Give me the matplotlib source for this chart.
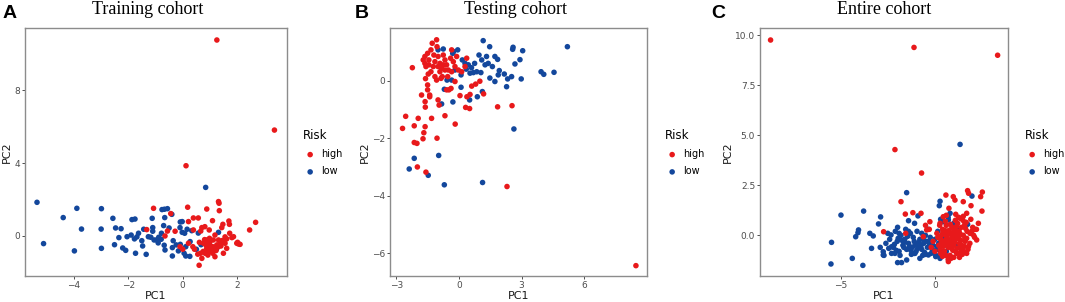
import matplotlib
matplotlib.use("Agg")
import matplotlib.pyplot as plt

# ---------------- Data ----------------
# Panel A: Training cohort
a_high_x = [1.25, 3.36, 0.12, 1.31, 1.33, -1.07, 0.18, 0.88, -0.44, 1.34, 0.39, 0.57, 0.21, 1.09, 1.69,
            2.67, 2.45, -1.32, -0.56, -0.28, -0.65, 0.39, 0.66, 0.70, 0.81, 0.97, 1.43, 1.47, 1.71, 1.72,
            1.55, 1.80, 1.98, 2.04, 2.10, 0.21, 0.37, 0.61, 0.88, 0.98, 1.12, 1.31, 1.37, 1.55, 1.61,
            1.49, 0.88, 0.99, 1.09, 0.82, 0.70, 0.60, 1.18, -0.10, 0.00, 0.43, 0.76, 0.94, 1.03, 1.25,
            1.86, 2.01, 1.61, 1.18, 0.95, 1.05, 1.15, 0.85, 0.75, 1.00, 1.10, 0.92, 1.20, 0.55, 1.40,
            0.98, 1.08, 0.90, 1.22, 0.80, 1.30, 0.65, 1.45]
a_high_y = [10.77, 5.82, 3.86, 1.89, 1.80, 1.52, 1.58, 1.48, 1.23, 1.39, 0.99, 0.99, 0.79, 0.84, 0.82,
            0.75, 0.33, 0.35, 0.27, 0.26, 0.00, 0.33, 0.27, 0.46, 0.51, 0.33, 0.46, 0.64, 0.64, 0.15,
            -0.05, -0.09, -0.40, -0.44, -0.46, -0.40, -0.59, -0.35, -0.22, -0.13, -0.22, -0.22, -0.40, -0.40, -0.68,
            -0.95, -0.68, -0.68, -0.59, -0.95, -1.23, -1.61, -1.14, -0.59, -0.73, -0.73, -0.40, -0.40, -0.86, -0.49,
            -0.04, -0.35, -0.16, 0.05, -0.55, -0.80, -0.62, -0.50, -0.85, -0.30, -0.95, -1.05, -0.75, -1.00, -0.55,
            -0.45, -0.70, -0.90, -0.80, -0.20, -0.60, -0.95, -0.25]
a_low_x = [-5.34, -5.10, -4.38, -3.88, -3.97, -3.71, -2.98, -2.99, -2.98, -2.56, -2.46, -2.26, -2.50, -2.34,
           -2.04, -2.20, -2.09, -1.86, -1.75, -1.89, -1.77, -1.62, -1.68, -1.73, -1.50, -1.43, -1.47, -1.34,
           -1.26, -1.17, -1.12, -1.10, -1.10, -1.05, -0.96, -0.88, -0.90, -0.78, -0.76, -0.67, -0.56, -0.66,
           -0.70, -0.79, -0.68, -0.65, -0.50, -0.40, -0.35, -0.38, -0.38, -0.24, -0.10, -0.09, -0.02, -0.02,
           0.07, -0.16, -0.09, 0.11, 0.16, 0.33, 0.26, 0.11, 0.05, 0.84, 0.57, 0.67, 0.96, 1.23, 1.31, 1.17,
           0.50, 0.27]
a_low_y = [1.85, -0.42, 1.01, 1.52, -0.82, 0.38, 1.50, 0.38, -0.68, 0.97, 0.44, 0.40, -0.48, -0.09,
           -0.04, -0.66, -0.79, 0.90, 0.93, 0.05, -0.16, 0.15, -0.05, -0.95, -0.26, 0.37, -0.55, -1.01,
           -0.04, -0.07, 0.97, 0.46, 0.26, -0.22, -0.22, -0.07, -0.38, 0.15, 1.45, 1.47, 1.50, 1.01,
           0.57, -0.18, -0.51, -0.77, 0.44, 1.19, -0.26, -0.64, -1.10, -0.49, 0.46, 0.77, 0.79, 0.20,
           0.15, -0.82, -0.46, -0.59, 0.37, 0.29, -1.12, -1.10, -0.95, 2.67, 0.16, -0.48, -0.42, -0.73, 0.20, -0.64,
           -0.73, -0.31]

# Panel B: Testing cohort
b_high_x = [8.47, 2.30, -1.58, -1.99, -2.14, -2.01, -1.72, -1.05, -1.68, -1.62, -2.14, -2.70, -2.55, -1.95,
            -1.31, -0.67, -0.18, -1.79, -1.62, -1.61, -1.40, -1.40, -1.00, -0.95, -1.50, -1.50, -1.60, -1.47,
            -1.07, -0.86, -0.59, -0.48, -0.38, -0.19, 0.05, 0.32, 0.51, 0.38, 0.53, 0.61, 0.80, 1.00, 1.18,
            1.85, 2.54, -2.23, -1.63, -1.63, -1.58, -1.50, -1.44, -1.34, -1.28, -1.07, -1.05, -1.20, -1.15,
            -1.00, -0.91, -0.83, -0.75, -0.67, -0.59, -0.51, -0.40, -0.35, -0.27, -0.19, -0.11, -0.03, 0.13,
            0.29, 0.37, -1.34, -1.15, -0.80, -1.23, -0.91, -0.54, -1.71, -1.44, -0.67, -0.35, -0.75, -1.00]
b_high_y = [-6.43, -3.68, -3.18, -3.00, -2.15, -2.18, -2.02, -2.00, -1.81, -1.60, -1.57, -1.66, -1.24, -1.31,
            -1.31, -1.22, -1.51, -0.50, -0.73, -0.92, -0.50, -0.56, -0.67, -0.85, -0.32, -0.15, 0.07, 0.23,
            0.02, 0.08, -0.32, -0.32, -0.27, -0.03, -0.52, -0.93, -0.97, -0.56, -0.48, -0.19, -0.12, -0.02, -0.46,
            -0.91, -0.87, 0.45, 0.84, 0.60, 0.49, 0.95, 0.72, 1.07, 1.30, 1.42, 1.18, 0.89, 0.66,
            0.84, 0.60, 0.43, 0.89, 0.72, 0.55, 0.37, 0.78, 1.07, 0.66, 0.49, 0.84, 0.37, 0.31,
            0.49, 0.78, 0.31, 0.14, 0.14, 0.49, 0.31, 0.14, 0.72, 0.55, 0.37, 0.31, 0.55, 0.49]
b_low_x = [5.19, 4.55, 3.93, 4.06, 3.05, 2.59, 2.57, 2.92, 2.68, 2.98, 2.63, 2.28, 2.52, 2.33, 2.17, 1.93,
           1.85, 1.72, 1.60, 1.40, 1.32, 1.16, 1.47, 1.48, 1.72, 1.88, 1.09, 0.96, 0.85, 0.69, 0.53, 1.05,
           1.12, 0.88, 0.45, 0.29, 0.16, -0.06, -0.26, -0.30, -0.75, -1.00, -0.19, 0.10, -0.35, -0.70, 0.10,
           0.51, -0.29, -0.83, -0.97, -2.14, -2.38, -1.47, -0.70, 1.13, -0.57, 0.60, 0.75, 1.25, 0.35]
b_low_y = [1.18, 0.29, 0.31, 0.22, 1.04, 1.16, 1.09, 0.73, 0.58, 0.06, -1.68, -0.21, 0.14, 0.06, 0.23, 0.35,
           0.74, 0.84, 0.49, 0.60, 0.84, 1.39, 1.18, 0.09, -0.03, 0.20, 0.72, 0.89, 0.31, 0.28, 0.26, 0.28,
           -0.38, -0.56, 0.55, 0.60, 0.72, 1.07, 1.01, 0.95, 1.10, 1.07, 0.37, 0.20, 0.02, -0.30, -0.23,
           -0.67, -0.74, -0.81, -2.60, -2.70, -3.07, -3.29, -3.62, -3.54, 0.02, 0.45, 0.60, 0.55, 0.40]

# Panel C: Entire cohort
c_high_x = [-8.71, -1.11, 3.32, -2.12, -0.71, -1.80, -1.57, -1.17, -0.74, -2.72, -1.55, 0.58, 0.97, 1.06,
            1.50, 1.73, 1.78, 2.51, 2.42, 2.49, 1.91, 1.68, 1.33, 0.74, 0.44, 0.27, -0.27, -0.44, -0.62,
            2.12, 2.21, 1.86, 1.68, 1.50, 1.15, 0.71, 0.44,
            0.3, 0.5, 0.6, 0.7, 0.8, 0.9, 1.0, 1.1, 1.2, 1.3, 1.4, 1.5, 1.6, 0.4, 0.6, 0.9, 1.2, 1.4, 1.7,
            0.5, 0.8, 1.1, 1.3, 0.2, 0.35, 0.65, 0.95, 1.05, 1.25, 1.55, 1.85, 2.0, 0.75, 0.45, 1.15, 1.65,
            1.9, 0.25, 0.55, 0.85, 1.35, 1.45, 0.3, 0.7, 1.0, 1.75, 2.1, 2.3, 0.1, -0.1, -0.3, -0.5, -0.2,
            0.0, 0.55, 0.85, 1.05, 1.3, 0.65, 0.9, 1.2, 1.6, 0.45, 0.75, 1.0,
            0.35, 0.62, 0.88, 1.12, 1.38, 1.62, 1.88, 0.42, 0.68, 0.95, 1.18, 1.42, 1.68, 0.28, 0.52, 0.78,
            1.02, 1.28, 1.52, 1.78, 2.05, 0.58, 0.82, 1.08, 1.32, 1.58, 0.15, 0.4, 0.72, 0.98, 1.25, 1.48,
            1.95, 2.2, 0.6, 1.1, 1.5, 0.85]
c_high_y = [9.75, 9.38, 8.99, 4.28, 3.11, 1.68, 1.06, 1.13, 1.10, 0.18, 0.10, 2.01, 1.93, 1.76,
            1.68, 2.23, 2.10, 2.16, 1.93, 1.21, 1.48, 1.10, 0.85, 1.35, 0.93, 0.60, 0.68, 0.27, -0.07,
            0.30, -0.23, 0.10, -0.90, -0.57, -0.90, -1.31, -0.90,
            -0.2, -0.4, 0.1, -0.6, -0.3, 0.0, -0.5, -0.2, 0.2, -0.4, -0.7, 0.0, -0.3, 0.3, 0.5, 0.4, 0.6, 0.4, 0.2,
            -0.8, -1.0, -0.8, -1.1, -0.5, 0.0, -0.15, -0.75, 0.15, -0.15, -0.55, -0.4, 0.4, 0.25, -0.55, 0.45, 0.65,
            0.8, 0.5, 0.7, -0.45, 0.05, -0.95, -0.9, -1.2, -1.1, -0.7, -0.1, 0.6, 0.1, -0.3, 0.3, 0.5, -0.6,
            -0.8, -0.25, 0.1, -0.35, -0.6, -0.5, -0.1, 0.05, -0.2, 0.15, -0.3, 0.3,
            -0.35, -0.05, -0.65, 0.0, -0.25, 0.35, 0.1, 0.15, -0.45, -0.3, -0.65, -0.5, -0.15, -0.7, 0.25, 0.1,
            0.35, 0.2, -0.8, -0.55, 0.0, -1.0, 0.55, 0.75, -0.9, 0.55, -0.1, -1.05, -0.35, 0.35, 0.9, 0.75,
            0.2, 0.3, 1.0, 1.05, 0.95, -1.15]
c_low_x = [1.33, -1.50, 1.96, 0.27, -4.98, -3.78, -2.88, -2.99, -4.05, -4.08, -4.20, -3.45, -3.27, -3.36,
           -5.48, -5.51, -4.38, -3.82, -2.74, -2.74, -2.33, -1.98, -2.30, -2.12, -1.98, -1.77, -1.50, -1.06,
           -0.80, -0.35, -1.40, -1.08, -0.90, 0.23, 0.44, 0.71, 0.80, 1.24, 1.73, 0.04, 0.27, 0.80,
           -2.6, -2.4, -2.2, -2.0, -1.9, -1.8, -1.7, -1.6, -1.5, -1.4, -1.3, -1.2, -1.1, -1.0, -0.9, -0.8,
           -0.7, -0.6, -0.5, -0.4, -0.3, -0.2, -0.1, 0.0, 0.1, 0.2, 0.3, 0.4, -2.3, -2.1, -1.85, -1.55,
           -1.25, -0.95, -0.65, -0.35, 0.05, -1.75, -1.45, -1.15, -0.85, -0.55, -0.25, 0.15, -2.9, -2.7, -2.5,
           0.6, 0.9, 1.2, 0.5, 1.0, 0.3, 0.7,
           -2.15, -1.95, -1.65, -1.35, -1.05, -0.75, -0.45, -0.15, 0.12, -2.05, -1.62, -1.28, -0.92, -0.62,
           -0.28, -2.45, -1.1, -0.5, 0.25, -1.9, -1.4, -0.7, -0.05]
c_low_y = [4.54, 2.13, 1.96, 1.70, 1.01, 1.21, 0.92, 0.57, 0.27, 0.13, -0.07, 0.10, -0.03, -0.65,
           -0.35, -1.43, -1.15, -1.50, -0.82, -0.98, 0.02, 0.40, -0.57, -0.90, -1.36, -1.36, -1.23, -0.90,
           -1.15, -0.98, 0.73, 0.60, 0.97, 1.48, 0.68, 0.77, 1.10, 0.35, 0.55, -1.06, -1.15, -1.06,
           -0.4, -0.2, -0.6, -0.3, -0.8, 0.0, -0.5, -0.2, -0.7, -0.4, 0.1, -0.6, -0.3, -0.8, -0.5, -0.2,
           -0.7, -0.4, 0.0, -0.6, -0.3, -0.9, -0.5, -0.2, -0.7, -0.4, -1.0, -0.1, -0.9, 0.2, -1.0, 0.3,
           -0.95, 0.2, -1.0, 0.3, -1.0, -0.25, -0.05, -0.1, -0.35, -0.85, -0.1, 0.2, -0.6, -1.0, 0.1,
           -0.8, -0.2, -0.5, 0.2, 0.6, 0.8, 0.9,
           -0.45, -0.15, -0.6, -0.55, -0.45, -0.55, -0.3, -0.7, -0.55, -0.75, -0.35, -0.75, -0.65, -0.2,
           -0.45, -0.65, -0.9, -0.95, -0.75, 0.1, 0.2, 0.1, -0.85]

titles = ["Training cohort", "Testing cohort", "Entire cohort"]
letters = ["A", "B", "C"]
legend_title = "Risk"
groups = ["high", "low"]
a_xticks = [-4, -2, 0, 2]
a_yticks = [0, 4, 8]
b_xticks = [-3, 0, 3, 6]
b_yticks = [-6, -4, -2, 0]
c_xticks = [-5, 0]
c_yticks = [0.0, 2.5, 5.0, 7.5, 10.0]

# ---------------- Style ----------------
RED = "#E8191B"
BLUE = "#13479C"
W, H = 1065, 302
fig = plt.figure(figsize=(W / 100, H / 100), dpi=100)

def px_rect(l, r, t, b):
    return [l / W, 1 - b / H, (r - l) / W, (b - t) / H]

panels = [
    dict(rect=px_rect(25, 287, 28, 276), xlim=(-5.78, 3.82), ylim=(-2.2, 11.43),
         xt=a_xticks, yt=a_yticks, hx=a_high_x, hy=a_high_y, lx=a_low_x, ly=a_low_y,
         title_x=148, letter_x=3, leg_x=298, yfmt="{:g}"),
    dict(rect=px_rect(390, 647, 28, 276), xlim=(-3.30, 9.0), ylim=(-6.79, 1.83),
         xt=b_xticks, yt=b_yticks, hx=b_high_x, hy=b_high_y, lx=b_low_x, ly=b_low_y,
         title_x=516, letter_x=355, leg_x=660, yfmt="{:g}"),
    dict(rect=px_rect(760, 1008, 28, 276), xlim=(-9.27, 3.87), ylim=(-2.03, 10.35),
         xt=c_xticks, yt=c_yticks, hx=c_high_x, hy=c_high_y, lx=c_low_x, ly=c_low_y,
         title_x=884, letter_x=711, leg_x=1020, yfmt="{:.1f}"),
]

for i, p in enumerate(panels):
    ax = fig.add_axes(p["rect"])
    ax.scatter(p["lx"], p["ly"], s=16, c=BLUE, edgecolors="none", label=groups[1], zorder=2)
    ax.scatter(p["hx"], p["hy"], s=16, c=RED, edgecolors="none", label=groups[0], zorder=3)
    ax.set_xlim(*p["xlim"])
    ax.set_ylim(*p["ylim"])
    ax.set_xticks(p["xt"])
    ax.set_xticklabels([("{:g}".format(v)).replace("-", "\u2212") for v in p["xt"]])
    ax.set_yticks(p["yt"])
    ax.set_yticklabels([(p["yfmt"].format(v)).replace("-", "\u2212") for v in p["yt"]])
    for s in ax.spines.values():
        s.set_color("#8C8C8C")
        s.set_linewidth(1.0)
    ax.tick_params(axis="both", colors="#4D4D4D", labelsize=6.5, length=2, width=0.7,
                   direction="out", pad=1.5)
    ax.set_xlabel("PC1", fontsize=8, color="#1A1A1A", labelpad=1)
    ax.set_ylabel("PC2", fontsize=8, color="#1A1A1A", labelpad=1.5)
    fig.text(p["title_x"] / W, 1 - 10 / H, titles[i], ha="center", va="center",
             fontsize=13, family="Liberation Serif", color="black")
    fig.text(p["letter_x"] / W, 1 - 14 / H, letters[i], ha="left", va="center",
             fontsize=14, fontweight="bold", family="Liberation Sans", color="black")
    h, l = ax.get_legend_handles_labels()
    leg = ax.legend([h[1], h[0]], [l[1], l[0]], title=legend_title, loc="upper left",
                    bbox_to_anchor=(p["leg_x"] / W, 1 - 124 / H), bbox_transform=fig.transFigure,
                    frameon=False, fontsize=7, title_fontsize=8.5, handletextpad=0.35,
                    markerscale=1.0, borderpad=0, labelspacing=0.75, handlelength=1.5)
    leg._legend_box.align = "left"

fig.savefig("out.png", dpi=100)
